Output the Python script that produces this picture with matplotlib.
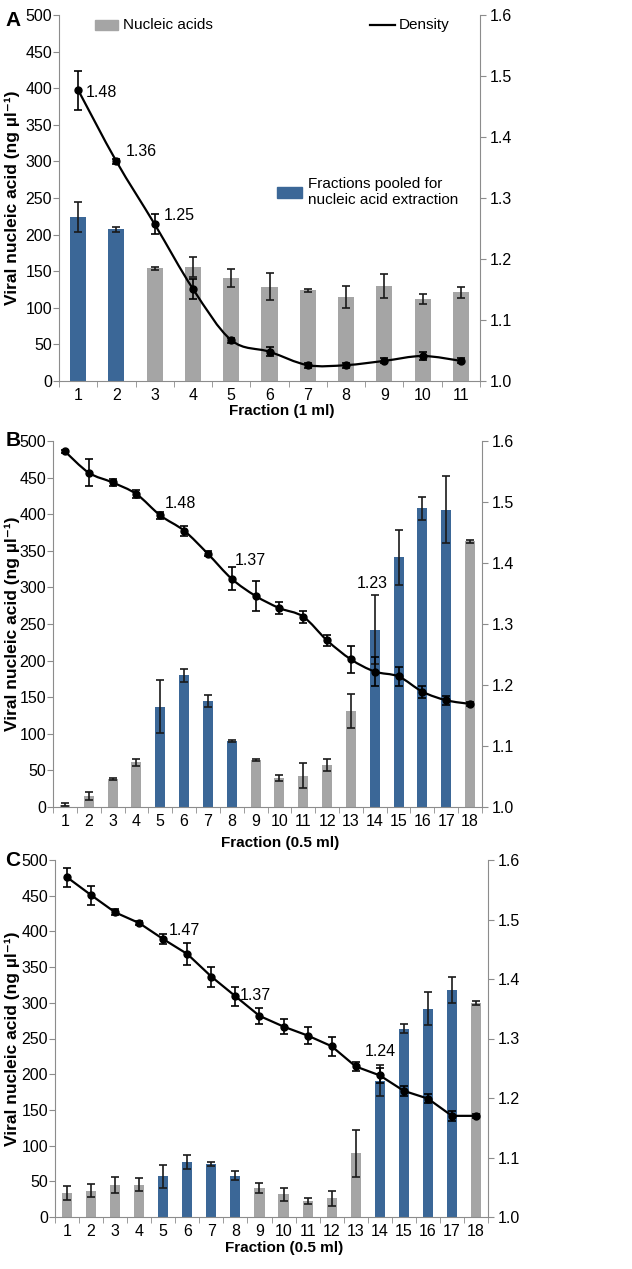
import numpy as np
import matplotlib
matplotlib.use('Agg')
import matplotlib.pyplot as plt
from matplotlib import font_manager
from matplotlib.path import Path
from matplotlib.patches import PathPatch, Rectangle
from matplotlib.lines import Line2D

names = {f.name for f in font_manager.fontManager.ttflist}
base = 'Liberation Sans Narrow' if 'Liberation Sans Narrow' in names else 'Liberation Sans'
plt.rcParams['font.family'] = [base, 'DejaVu Sans']

# ---- data: panel A (1 ml fractions)
a_frac = list(range(1, 12))
a_na = [224, 207, 154, 156, 141, 129, 124, 115, 130, 112, 121]
a_na_err = [20, 4, 2, 14, 12, 18, 2, 15, 16, 7, 7]
a_dens = [1.477, 1.360, 1.257, 1.151, 1.067, 1.048, 1.026, 1.026, 1.033, 1.041, 1.033]
a_dens_err = [0.032, 0.004, 0.016, 0.017, 0.004, 0.007, 0.004, 0.004, 0.004, 0.007, 0.004]
a_pooled = [1, 2]
a_labels = {1: '1.48', 2: '1.36', 3: '1.25'}

# ---- data: panel B (0.5 ml fractions)
b_frac = list(range(1, 19))
b_na = [3, 15, 38, 61, 137, 180, 145, 90, 64, 40, 43, 57, 131, 242, 341, 408, 406, 363]
b_na_err = [2, 6, 1, 5, 36, 9, 8, 1, 1, 4, 17, 8, 23, 47, 38, 16, 46, 2]
b_dens = [1.583, 1.548, 1.532, 1.513, 1.478, 1.453, 1.415, 1.374, 1.346, 1.326,
          1.312, 1.273, 1.242, 1.222, 1.214, 1.189, 1.175, 1.169]
b_dens_err = [0.003, 0.022, 0.005, 0.007, 0.006, 0.008, 0.004, 0.019, 0.024, 0.010,
              0.010, 0.009, 0.022, 0.024, 0.015, 0.010, 0.007, 0.003]
b_pooled = [5, 6, 7, 8, 14, 15, 16, 17]
b_labels = {5: '1.48', 8: '1.37', 14: '1.23'}

# ---- data: panel C (0.5 ml fractions)
c_frac = list(range(1, 19))
c_na = [34, 37, 45, 45, 57, 77, 74, 58, 41, 32, 22, 26, 89, 191, 264, 292, 318, 300]
c_na_err = [10, 9, 11, 9, 16, 10, 3, 6, 7, 9, 4, 10, 33, 22, 6, 23, 18, 3]
c_dens = [1.571, 1.541, 1.512, 1.494, 1.467, 1.442, 1.404, 1.371, 1.338, 1.320,
          1.305, 1.287, 1.253, 1.238, 1.212, 1.199, 1.170, 1.170]
c_dens_err = [0.016, 0.016, 0.005, 0.004, 0.008, 0.018, 0.017, 0.016, 0.013, 0.012,
              0.014, 0.016, 0.008, 0.013, 0.008, 0.008, 0.008, 0.003]
c_pooled = [5, 6, 7, 8, 14, 15, 16, 17]
c_labels = {5: '1.47', 8: '1.37', 14: '1.24'}

GREY = '#a5a5a5'
BLUE = '#3b6797'
SPINE = '#8c8c8c'
W, H = 632, 1269
TS = 11.5  # tick / annotation size


def smooth_path(x, y):
    # Catmull-Rom style bezier (Excel "smoothed line")
    x = np.asarray(x, float); y = np.asarray(y, float)
    verts = [(x[0], y[0])]
    codes = [Path.MOVETO]
    n = len(x)
    for i in range(n - 1):
        i0 = max(i - 1, 0); i3 = min(i + 2, n - 1)
        c1 = (x[i] + (x[i + 1] - x[i0]) / 6, y[i] + (y[i + 1] - y[i0]) / 6)
        c2 = (x[i + 1] - (x[i3] - x[i]) / 6, y[i + 1] - (y[i3] - y[i]) / 6)
        verts += [c1, c2, (x[i + 1], y[i + 1])]
        codes += [Path.CURVE4] * 3
    return Path(verts, codes)


def panel(box, frac, na, na_err, dens, dens_err, pooled, labels, offsets,
          xlabel, smooth, ylab_x, xlab_y):
    l, t, r, b = box
    ax = fig.add_axes([l / W, 1 - b / H, (r - l) / W, (b - t) / H])
    cols = [BLUE if f in pooled else GREY for f in frac]
    ax.bar(frac, na, width=0.42, color=cols, zorder=2)
    ax.errorbar(frac, na, yerr=na_err, fmt='none', ecolor='#1a1a1a',
                elinewidth=1.2, capsize=3, capthick=1.2, zorder=3)
    ax.set_xlim(0.5, len(frac) + 0.5)
    ax.set_ylim(0, 500)
    ax.set_yticks(np.arange(0, 501, 50))
    ax.set_xticks(frac)
    ax.set_xticks(np.arange(0.5, len(frac) + 1, 1), minor=True)
    ax.tick_params(axis='x', which='major', length=0, labelsize=TS, pad=5)
    ax.tick_params(axis='x', which='minor', length=4, color=SPINE, direction='out')
    ax.tick_params(axis='y', length=4, color=SPINE, labelsize=TS, pad=1)
    for s in ['top', 'right']:
        ax.spines[s].set_visible(False)
    for s in ['left', 'bottom']:
        ax.spines[s].set_color(SPINE)
    ax.set_ylabel('Viral nucleic acid (ng µl⁻¹)', fontsize=12.5, fontweight='bold')
    ax.yaxis.set_label_coords(ylab_x, 0.5)
    ax.set_xlabel(xlabel, fontsize=11, fontweight='bold')
    ax.xaxis.set_label_coords(0.53, xlab_y)

    ax2 = ax.twinx()
    ax2.set_ylim(1.0, 1.6)
    ax2.set_yticks(np.arange(1.0, 1.61, 0.1))
    ax2.set_yticklabels([f'{v:.1f}' for v in np.arange(1.0, 1.61, 0.1)])
    ax2.tick_params(axis='y', length=4, color=SPINE, labelsize=TS, pad=3)
    for s in ['top', 'left', 'bottom']:
        ax2.spines[s].set_visible(False)
    ax2.spines['right'].set_color(SPINE)
    if smooth:
        ax2.add_patch(PathPatch(smooth_path(frac, dens), fill=False,
                                edgecolor='black', lw=1.6, zorder=3))
    else:
        ax2.plot(frac, dens, color='black', lw=1.6, zorder=3)
    ax2.errorbar(frac, dens, yerr=dens_err, fmt='o', color='black', ms=5,
                 ecolor='black', elinewidth=1.2, capsize=3, capthick=1.2, zorder=4)
    for f, txt in labels.items():
        dx, dy, ha = offsets[f]
        ax2.annotate(txt, (f, dens[f - 1]), xytext=(dx, dy), textcoords='offset pixels',
                     ha=ha, va='center', fontsize=TS)
    return ax, ax2


fig = plt.figure(figsize=(W / 100, H / 100), dpi=100)

axA, axA2 = panel((59, 15, 480, 381), a_frac, a_na, a_na_err, a_dens, a_dens_err,
                  a_pooled, a_labels,
                  {1: (8, -2, 'left'), 2: (9, 10, 'left'), 3: (9, 9, 'left')},
                  'Fraction (1 ml)', True, -0.093, -0.063)
axB, axB2 = panel((53, 441, 482, 807), b_frac, b_na, b_na_err, b_dens, b_dens_err,
                  b_pooled, b_labels,
                  {5: (4, 12, 'left'), 8: (3, 18, 'left'), 14: (-2, 88, 'center')},
                  'Fraction (0.5 ml)', True, -0.077, -0.079)
axC, axC2 = panel((55, 860, 488, 1217), c_frac, c_na, c_na_err, c_dens, c_dens_err,
                  c_pooled, c_labels,
                  {5: (6, 9, 'left'), 8: (4, 1, 'left'), 14: (1, 24, 'center')},
                  'Fraction (0.5 ml)', False, -0.081, -0.067)

# legend of panel A, drawn by hand
tr = axA.transAxes
axA2.add_patch(Rectangle((0.0855, 0.959), 0.0546, 0.0273, transform=tr,
                         color=GREY, clip_on=False))
axA2.text(0.152, 0.973, 'Nucleic acids', transform=tr, va='center', fontsize=11)
axA2.add_line(Line2D([0.739, 0.798], [0.973, 0.973], transform=tr, color='black', lw=1.6))
axA2.text(0.808, 0.973, 'Density', transform=tr, va='center', fontsize=11)
axA2.add_patch(Rectangle((0.518, 0.50), 0.059, 0.030, transform=tr, color=BLUE))
axA2.text(0.591, 0.516, 'Fractions pooled for\nnucleic acid extraction', transform=tr,
          va='center', fontsize=11, linespacing=1.15)

for letter, y in [('A', 20), ('B', 440), ('C', 860)]:
    fig.text(13 / W, 1 - y / H, letter, fontsize=15, fontweight='bold',
             ha='center', va='center')

fig.savefig('out.png', dpi=100)
